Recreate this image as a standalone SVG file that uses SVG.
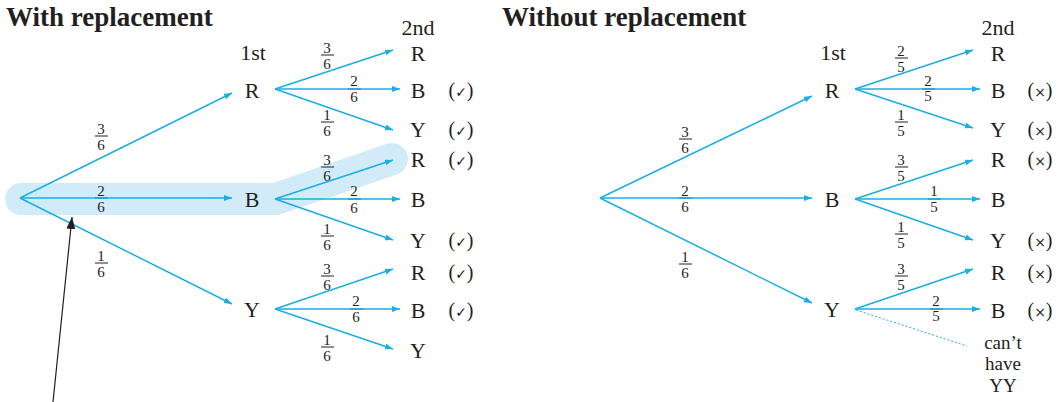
<svg xmlns="http://www.w3.org/2000/svg" width="1064" height="402" viewBox="0 0 1064 402">
<defs>
<marker id="ah" markerUnits="userSpaceOnUse" markerWidth="9" markerHeight="7" refX="8" refY="3" orient="auto">
<path d="M0,0 L8,3 L0,6 z" fill="#1aaee5"/>
</marker>
<marker id="bk" markerUnits="userSpaceOnUse" markerWidth="13" markerHeight="10" refX="12" refY="4.5" orient="auto">
<path d="M0,0 L12,4.5 L0,9 z" fill="#231f20"/>
</marker>
<style>
text{font-family:"Liberation Serif","Times New Roman",serif;fill:#231f20}
.t{font-size:27px;font-weight:bold}
.n{font-size:22px;text-anchor:middle}
.m{font-size:20px;text-anchor:middle}
.f{font-size:15px;text-anchor:middle}
.c{stroke:#1aaee5;stroke-width:1.5;fill:none;marker-end:url(#ah)}
.bar{stroke:#231f20;stroke-width:1}
.sym{font-family:"DejaVu Sans",sans-serif;font-size:14px}
.note{font-size:19px;text-anchor:middle}
</style>
</defs>
<rect width="1064" height="402" fill="#fff"/>
<g id="highlight">
<polyline points="21,199 276,199 392,159" fill="none" stroke="#d2ebf8" stroke-width="32" stroke-linecap="round" stroke-linejoin="miter"/>
</g>
<g id="titles">
<text class="t" x="6" y="26">With replacement</text>
<text class="t" x="502" y="26">Without replacement</text>
</g>
<g id="headers">
<text class="n" x="253" y="60">1st</text>
<text class="n" x="418" y="35">2nd</text>
<text class="n" x="833" y="60">1st</text>
<text class="n" x="998" y="35">2nd</text>
</g>
<g id="fractions">
<text class="f" x="101" y="134">3</text><line class="bar" x1="95" y1="136" x2="108" y2="136"/><text class="f" x="101" y="150">6</text>
<line class="bar" x1="95" y1="198" x2="108" y2="198"/><text class="f" x="101" y="196">2</text><text class="f" x="101" y="212">6</text>
<text class="f" x="101" y="261">1</text><line class="bar" x1="95" y1="263" x2="108" y2="263"/><text class="f" x="101" y="277">6</text>
<text class="f" x="327" y="53">3</text><line class="bar" x1="321" y1="55" x2="334" y2="55"/><text class="f" x="327" y="69">6</text>
<line class="bar" x1="348" y1="89" x2="361" y2="89"/><text class="f" x="354" y="86">2</text><text class="f" x="354" y="102">6</text>
<text class="f" x="327" y="120">1</text><line class="bar" x1="321" y1="122" x2="334" y2="122"/><text class="f" x="327" y="136">6</text>
<text class="f" x="327" y="165">3</text><line class="bar" x1="321" y1="167" x2="334" y2="167"/><text class="f" x="327" y="181">6</text>
<line class="bar" x1="348" y1="199" x2="361" y2="199"/><text class="f" x="354" y="196">2</text><text class="f" x="354" y="213">6</text>
<text class="f" x="327" y="234">1</text><line class="bar" x1="321" y1="236" x2="334" y2="236"/><text class="f" x="327" y="250">6</text>
<text class="f" x="327" y="274">3</text><line class="bar" x1="321" y1="276" x2="334" y2="276"/><text class="f" x="327" y="290">6</text>
<line class="bar" x1="350" y1="309" x2="363" y2="309"/><text class="f" x="356" y="306">2</text><text class="f" x="356" y="322">6</text>
<text class="f" x="327" y="345">1</text><line class="bar" x1="321" y1="347" x2="334" y2="347"/><text class="f" x="327" y="361">6</text>
<text class="f" x="685" y="137">3</text><line class="bar" x1="679" y1="139" x2="692" y2="139"/><text class="f" x="685" y="153">6</text>
<line class="bar" x1="679" y1="198" x2="692" y2="198"/><text class="f" x="685" y="196">2</text><text class="f" x="685" y="212">6</text>
<text class="f" x="685" y="262">1</text><line class="bar" x1="679" y1="264" x2="692" y2="264"/><text class="f" x="685" y="278">6</text>
<text class="f" x="901" y="56">2</text><line class="bar" x1="895" y1="58" x2="908" y2="58"/><text class="f" x="901" y="72">5</text>
<line class="bar" x1="922" y1="89" x2="935" y2="89"/><text class="f" x="928" y="86">2</text><text class="f" x="928" y="101">5</text>
<text class="f" x="901" y="120">1</text><line class="bar" x1="895" y1="122" x2="908" y2="122"/><text class="f" x="901" y="136">5</text>
<text class="f" x="901" y="165">3</text><line class="bar" x1="895" y1="167" x2="908" y2="167"/><text class="f" x="901" y="181">5</text>
<line class="bar" x1="928" y1="199" x2="941" y2="199"/><text class="f" x="934" y="196">1</text><text class="f" x="934" y="212">5</text>
<text class="f" x="901" y="232">1</text><line class="bar" x1="895" y1="234" x2="908" y2="234"/><text class="f" x="901" y="248">5</text>
<text class="f" x="901" y="274">3</text><line class="bar" x1="895" y1="276" x2="908" y2="276"/><text class="f" x="901" y="290">5</text>
<line class="bar" x1="930" y1="309" x2="943" y2="309"/><text class="f" x="936" y="306">2</text><text class="f" x="936" y="321">5</text>
</g>
<g id="connectors">
<line class="c" x1="20" y1="198" x2="232" y2="93"/>
<line class="c" x1="20" y1="198" x2="232" y2="198"/>
<line class="c" x1="20" y1="198" x2="232" y2="304"/>
<line class="c" x1="275" y1="89" x2="393" y2="50"/>
<line class="c" x1="275" y1="89" x2="400" y2="89"/>
<line class="c" x1="275" y1="89" x2="393" y2="130"/>
<line class="c" x1="275" y1="199" x2="393" y2="160"/>
<line class="c" x1="275" y1="199" x2="400" y2="199"/>
<line class="c" x1="275" y1="199" x2="393" y2="240"/>
<line class="c" x1="275" y1="309" x2="393" y2="269"/>
<line class="c" x1="275" y1="309" x2="400" y2="309"/>
<line class="c" x1="275" y1="309" x2="393" y2="349"/>
<line class="c" x1="600" y1="198" x2="812" y2="96"/>
<line class="c" x1="600" y1="198" x2="812" y2="198"/>
<line class="c" x1="600" y1="198" x2="812" y2="303"/>
<line class="c" x1="855" y1="89" x2="973" y2="50"/>
<line class="c" x1="855" y1="89" x2="980" y2="89"/>
<line class="c" x1="855" y1="89" x2="973" y2="128"/>
<line class="c" x1="855" y1="199" x2="973" y2="160"/>
<line class="c" x1="855" y1="199" x2="980" y2="199"/>
<line class="c" x1="855" y1="199" x2="973" y2="240"/>
<line class="c" x1="855" y1="309" x2="973" y2="269"/>
<line class="c" x1="855" y1="309" x2="980" y2="309"/>
<line x1="856" y1="310" x2="967" y2="346" stroke="#1aaee5" stroke-width="1" stroke-dasharray="2 2"/>
<line x1="53" y1="402" x2="72" y2="217" stroke="#231f20" stroke-width="1.2" marker-end="url(#bk)"/>
</g>
<g id="nodes-left">
<text class="n" x="252" y="98">R</text>
<text class="n" x="252" y="207">B</text>
<text class="n" x="252" y="317">Y</text>
<text class="n" x="418" y="61">R</text>
<text class="n" x="418" y="98">B</text>
<text class="n" x="418" y="137">Y</text>
<text class="n" x="418" y="167">R</text>
<text class="n" x="418" y="207">B</text>
<text class="n" x="418" y="248">Y</text>
<text class="n" x="418" y="280">R</text>
<text class="n" x="418" y="318">B</text>
<text class="n" x="418" y="358">Y</text>
</g>
<g id="nodes-right">
<text class="n" x="832" y="98">R</text>
<text class="n" x="832" y="207">B</text>
<text class="n" x="832" y="317">Y</text>
<text class="n" x="998" y="61">R</text>
<text class="n" x="998" y="98">B</text>
<text class="n" x="998" y="137">Y</text>
<text class="n" x="998" y="167">R</text>
<text class="n" x="998" y="207">B</text>
<text class="n" x="998" y="248">Y</text>
<text class="n" x="998" y="280">R</text>
<text class="n" x="998" y="318">B</text>
</g>
<g id="marks-left">
<text class="m" x="461" y="97">(<tspan class="sym">✓</tspan>)</text>
<text class="m" x="461" y="136">(<tspan class="sym">✓</tspan>)</text>
<text class="m" x="461" y="166">(<tspan class="sym">✓</tspan>)</text>
<text class="m" x="461" y="247">(<tspan class="sym">✓</tspan>)</text>
<text class="m" x="461" y="279">(<tspan class="sym">✓</tspan>)</text>
<text class="m" x="461" y="317">(<tspan class="sym">✓</tspan>)</text>
</g>
<g id="marks-right">
<text class="m" x="1040" y="97">(<tspan class="sym">×</tspan>)</text>
<text class="m" x="1040" y="136">(<tspan class="sym">×</tspan>)</text>
<text class="m" x="1040" y="166">(<tspan class="sym">×</tspan>)</text>
<text class="m" x="1040" y="247">(<tspan class="sym">×</tspan>)</text>
<text class="m" x="1040" y="279">(<tspan class="sym">×</tspan>)</text>
<text class="m" x="1040" y="317">(<tspan class="sym">×</tspan>)</text>
</g>
<g id="note">
<text class="note" x="1003" y="349">can’t</text>
<text class="note" x="1003" y="370">have</text>
<text class="note" x="1003" y="392">YY</text>
</g>
</svg>
